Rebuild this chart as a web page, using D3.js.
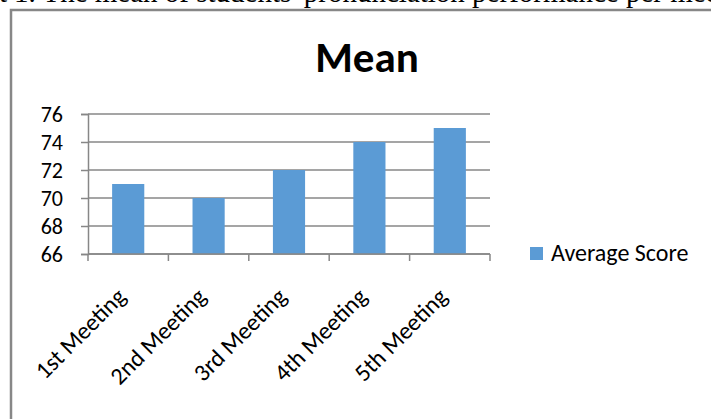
<!DOCTYPE html>
<html>
<head>
<meta charset="utf-8">
<script src="https://cdn.jsdelivr.net/npm/d3@7"></script>
<style>
  html, body { margin: 0; padding: 0; background: #fff; }
  svg { display: block; }
</style>
</head>
<body>
<svg id="chart" width="711" height="419"></svg>
<script>
// Mean score per meeting
const categories = ["1st Meeting", "2nd Meeting", "3rd Meeting", "4th Meeting", "5th Meeting"];
const averageScore = [71, 70, 72, 74, 75];
const yTicks = [66, 68, 70, 72, 74, 76];
const seriesName = "Average Score";
const chartTitle = "Mean";
const captionLead = "Chart";
const caption = "1. The mean of students' pronunciation performance per meeting";

const svg = d3.select("#chart");
const sans = "Calibri, Carlito, 'Liberation Sans', Arial, sans-serif";
const grey = "#878787";
const barColor = "#5b9bd5";

// Document caption above the chart frame (partly cut off by the page edge)
svg.append("text")
  .attr("x", 7).attr("y", 2)
  .attr("text-anchor", "end")
  .attr("font-family", "'Liberation Serif', 'Times New Roman', serif")
  .attr("font-size", 29)
  .text(captionLead);
svg.append("text")
  .attr("x", 14).attr("y", 2)
  .attr("font-family", "'Liberation Serif', 'Times New Roman', serif")
  .attr("font-size", 29)
  .text(caption);

// Chart frame
svg.append("rect")
  .attr("x", 11).attr("y", 10)
  .attr("width", 760).attr("height", 480)
  .attr("fill", "#fff")
  .attr("stroke", grey)
  .attr("stroke-width", 2.5);

// Title
svg.append("text")
  .attr("x", 367).attr("y", 72)
  .attr("text-anchor", "middle")
  .attr("font-family", sans)
  .attr("font-weight", "bold")
  .attr("font-size", 43)
  .text(chartTitle);

const plot = { left: 88, right: 490, top: 114, bottom: 254 };

const x = d3.scaleBand()
  .domain(categories)
  .range([plot.left, plot.right])
  .paddingInner(0.6)
  .paddingOuter(0.3);

const y = d3.scaleLinear()
  .domain([d3.min(yTicks), d3.max(yTicks)])
  .range([plot.bottom, plot.top]);

// Horizontal gridlines
svg.append("g")
  .selectAll("line")
  .data(yTicks)
  .join("line")
  .attr("x1", plot.left).attr("x2", plot.right)
  .attr("y1", d => y(d)).attr("y2", d => y(d))
  .attr("stroke", grey)
  .attr("stroke-width", 1.5);

// Y axis
const yAxis = svg.append("g")
  .attr("transform", `translate(${plot.left},0)`)
  .call(d3.axisLeft(y).tickValues(yTicks).tickSize(7).tickPadding(18).tickFormat(d3.format("d")));
yAxis.select(".domain").attr("stroke", grey).attr("stroke-width", 1.5);
yAxis.selectAll(".tick line").attr("stroke", grey).attr("stroke-width", 1.5);
yAxis.selectAll(".tick text")
  .attr("font-family", sans)
  .attr("font-size", 22)
  .attr("fill", "#000");

// Bars
svg.append("g")
  .selectAll("rect")
  .data(categories)
  .join("rect")
  .attr("x", d => x(d))
  .attr("width", x.bandwidth())
  .attr("y", (d, i) => y(averageScore[i]))
  .attr("height", (d, i) => y(d3.min(yTicks)) - y(averageScore[i]))
  .attr("fill", barColor);

// X axis with ticks at band boundaries
const boundaries = d3.range(categories.length + 1)
  .map(i => plot.left + i * (plot.right - plot.left) / categories.length);
const xAxis = svg.append("g");
xAxis.append("line")
  .attr("x1", plot.left).attr("x2", plot.right)
  .attr("y1", plot.bottom).attr("y2", plot.bottom)
  .attr("stroke", grey).attr("stroke-width", 1.5);
xAxis.selectAll("line.tick")
  .data(boundaries)
  .join("line")
  .attr("class", "tick")
  .attr("x1", d => d).attr("x2", d => d)
  .attr("y1", plot.bottom).attr("y2", plot.bottom + 7)
  .attr("stroke", grey).attr("stroke-width", 1.5);

xAxis.selectAll("text")
  .data(categories)
  .join("text")
  .attr("transform", d => `translate(${x(d) + x.bandwidth() / 2 - 1},${plot.bottom + 44}) rotate(-45)`)
  .attr("text-anchor", "end")
  .attr("font-family", sans)
  .attr("font-size", 24)
  .attr("fill", "#000")
  .text(d => d);

// Legend
const legend = svg.append("g");
legend.append("rect")
  .attr("x", 530).attr("y", 247)
  .attr("width", 13).attr("height", 13)
  .attr("fill", barColor);
legend.append("text")
  .attr("x", 551).attr("y", 261)
  .attr("font-family", sans)
  .attr("font-size", 24)
  .attr("fill", "#000")
  .text(seriesName);
</script>
</body>
</html>
